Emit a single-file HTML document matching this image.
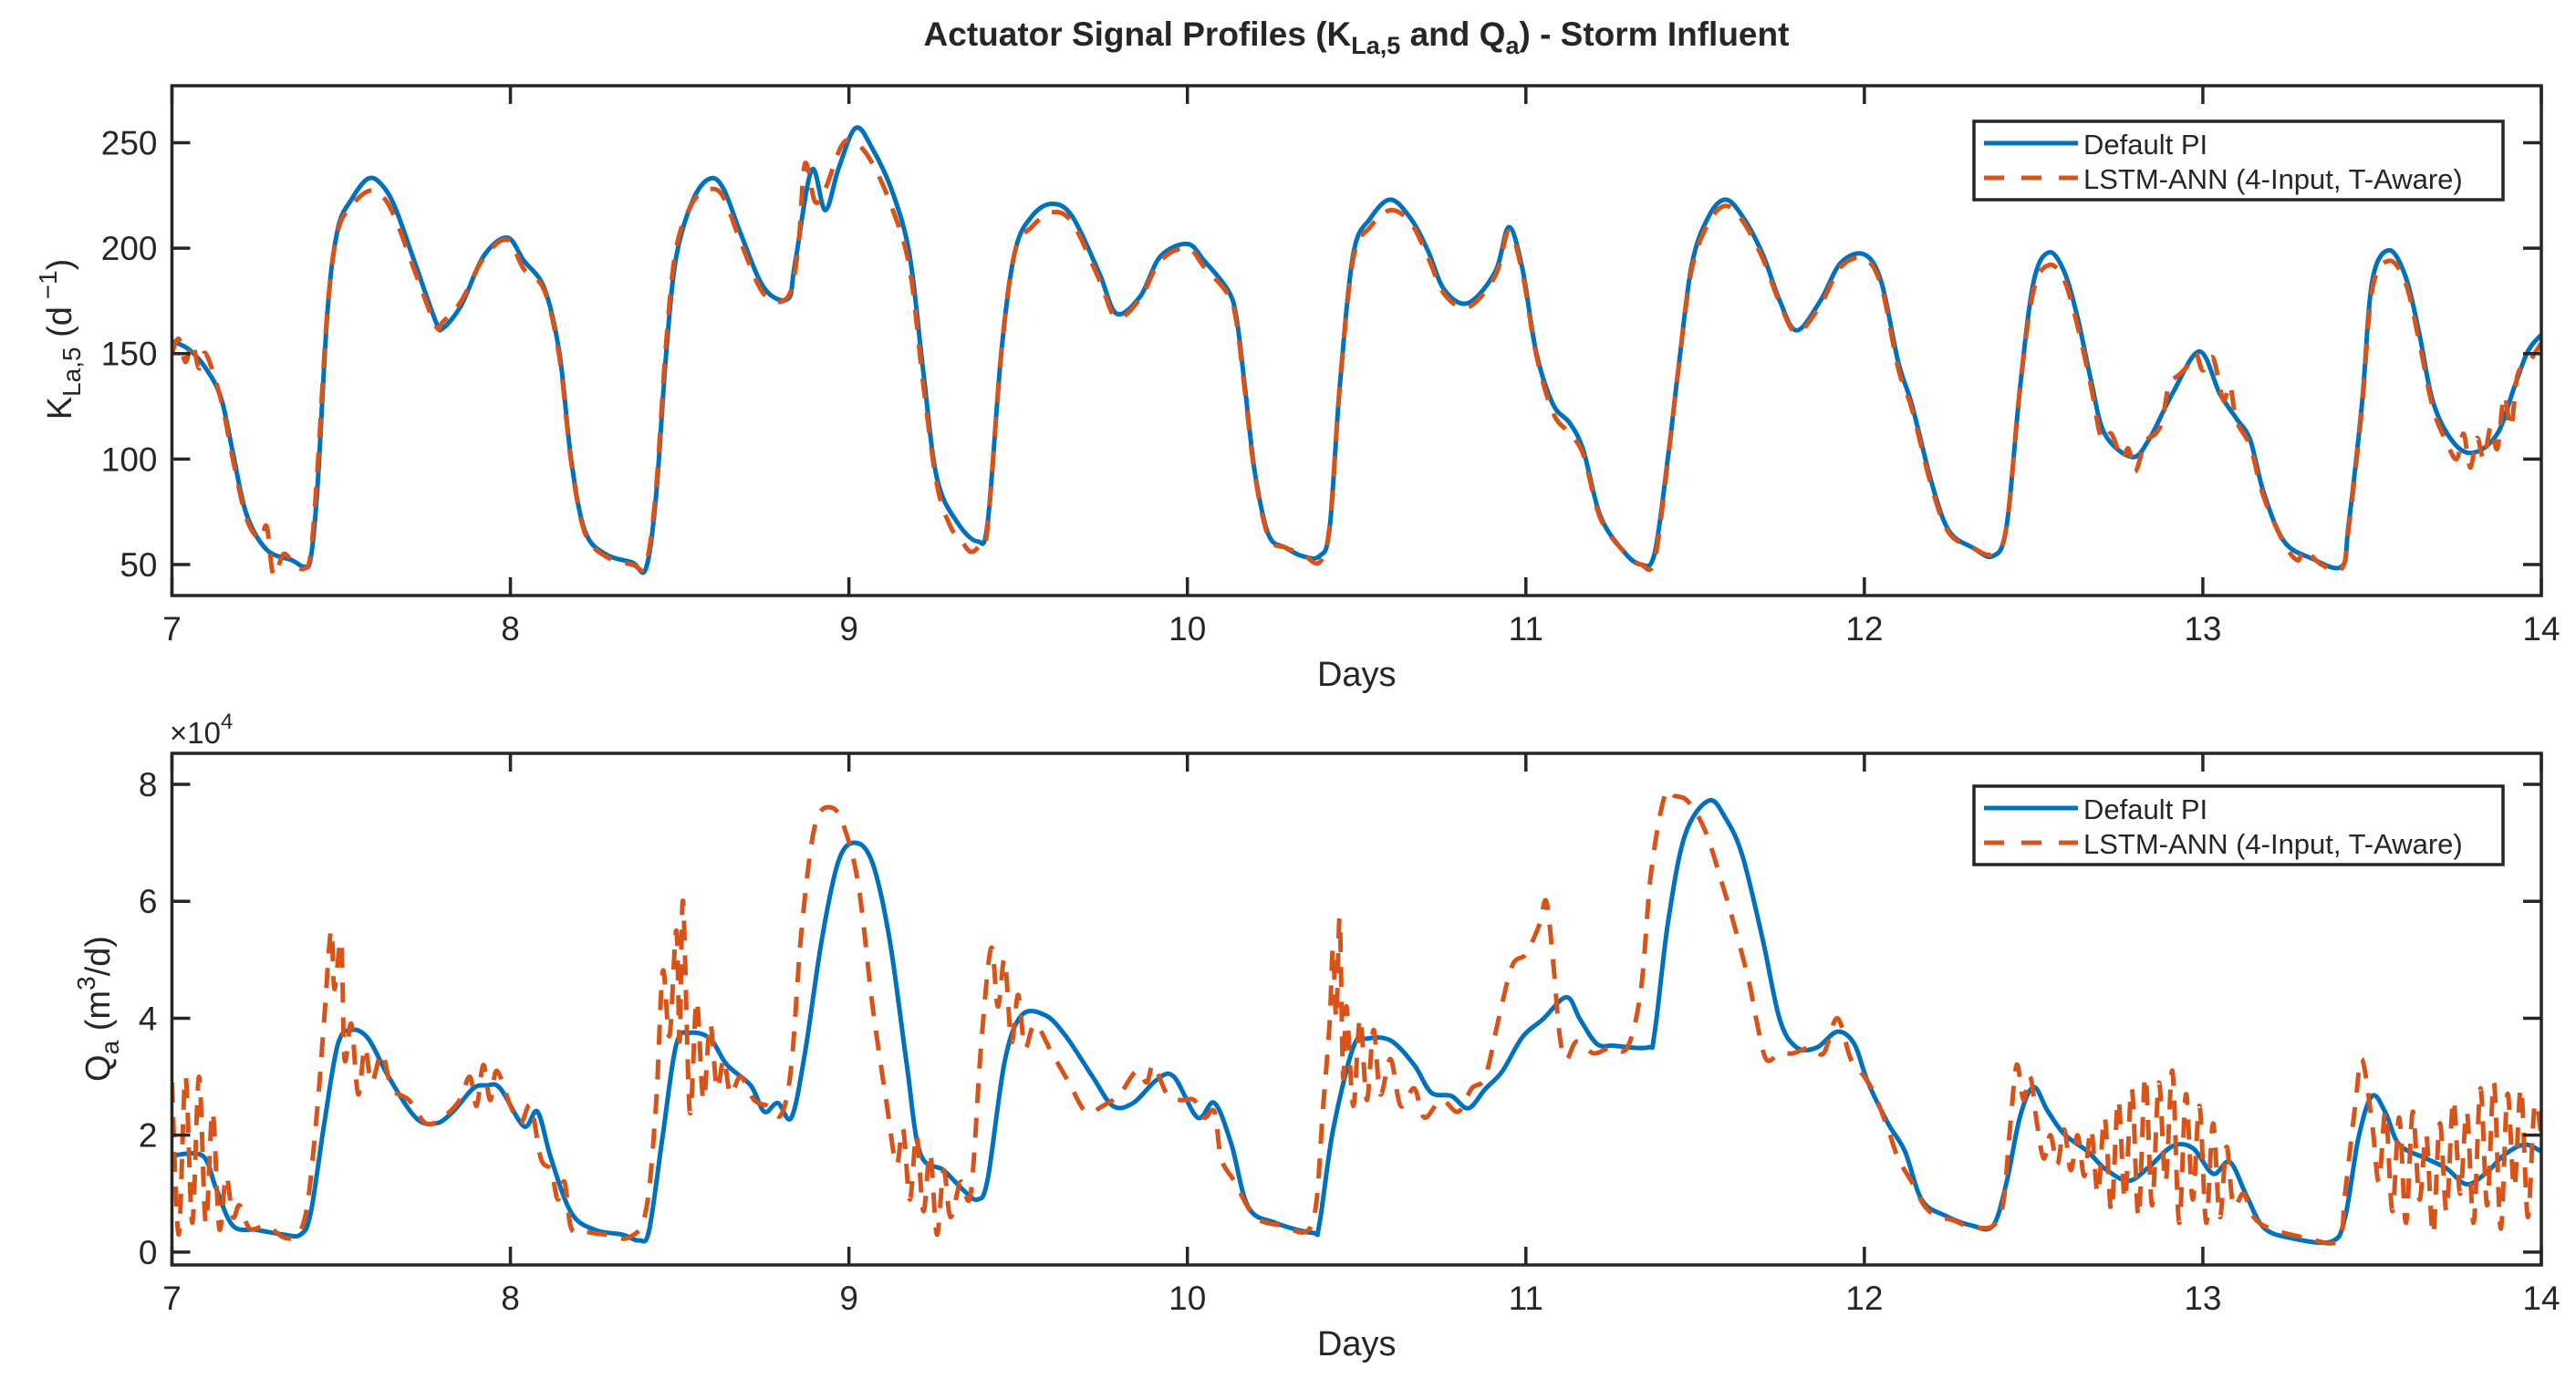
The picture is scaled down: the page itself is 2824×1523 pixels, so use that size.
<!DOCTYPE html>
<html><head><meta charset="utf-8"><style>
html,body{margin:0;padding:0;background:#fff;}
svg{display:block;font-family:"Liberation Sans",Arial,sans-serif;}
</style></head><body>
<svg id="chart" width="2824" height="1523" viewBox="0 0 2824 1523" xmlns="http://www.w3.org/2000/svg">
<rect width="2824" height="1523" fill="#fff"/>
<text x="1487" y="50" text-anchor="middle" font-size="37" font-weight="bold" fill="#262626">Actuator Signal Profiles (K<tspan font-size="27" dy="9">La,5</tspan><tspan dy="-9"> and Q</tspan><tspan font-size="27" dy="9">a</tspan><tspan dy="-9">) - Storm Influent</tspan></text>
<g id="top"></g>
<g id="bot"></g>
</svg>
<script>
// ---- data: top panel (KLa5) ----
const piTopDays = [7.0,7.05,7.1,7.145,7.18,7.22,7.28,7.355,7.39,7.41,7.43,7.46,7.49,7.53,7.58,7.62,7.66,7.72,7.78,7.8,7.855,7.92,7.99,8.04,8.1,8.145,8.18,8.22,8.28,8.36,8.4,8.43,8.46,8.49,8.54,8.59,8.63,8.68,8.75,8.82,8.84,8.89,8.93,8.97,9.02,9.07,9.13,9.18,9.22,9.26,9.32,9.38,9.41,9.45,9.49,9.54,9.6,9.66,9.74,9.79,9.86,9.92,10.0,10.05,10.12,10.145,10.17,10.2,10.24,10.29,10.34,10.39,10.42,10.45,10.49,10.54,10.6,10.66,10.71,10.76,10.83,10.91,10.95,10.99,11.03,11.08,11.13,11.17,11.22,11.29,11.34,11.38,11.42,11.45,11.49,11.54,11.59,11.64,11.7,11.75,11.8,11.87,11.93,12.0,12.05,12.1,12.14,12.2,12.25,12.32,12.38,12.42,12.46,12.5,12.545,12.59,12.63,12.67,12.71,12.79,12.84,12.91,12.99,13.05,13.1,13.14,13.18,13.24,13.32,13.41,13.43,13.47,13.5,13.55,13.6,13.64,13.68,13.74,13.8,13.87,13.92,13.96,14.0];
const piTopVals = [156,152,143,129,103,74,57,52,49,53,87,171,209,223,233,230,219,192,165,162,173,196,205,194,181,150,99,66,55,51,48,82,150,196,223,233,228,207,181,176,192,237,218,238,257,247,226,196,141,91,70,61,70,150,198,215,221,215,188,169,177,196,202,194,180,167,134,93,64,58,54,54,67,134,197,214,223,214,199,180,174,189,210,190,151,126,117,104,73,56,50,55,101,142,192,215,223,215,197,175,161,175,193,197,184,146,126,88,66,58,54,68,134,184,198,189,167,137,112,101,109,131,151,131,119,109,84,61,53,49,68,126,184,199,186,159,127,108,103,112,134,151,159];
const lstmTopDays = [
7.0,7.02,7.04,7.06,7.08,7.1,7.145,7.18,7.22,7.26,
7.28,7.3,7.33,7.36,7.39,7.41,7.43,7.46,7.49,7.53,
7.58,7.62,7.66,7.72,7.78,7.8,7.855,7.92,7.99,8.04,
8.1,8.145,8.18,8.22,8.28,8.36,8.4,8.43,8.46,8.49,
8.54,8.59,8.63,8.68,8.75,8.82,8.85,8.87,8.9,8.93,
8.98,9.02,9.07,9.13,9.18,9.22,9.26,9.3,9.33,9.36,
9.39,9.41,9.45,9.49,9.54,9.6,9.66,9.74,9.79,9.86,
9.92,10.0,10.05,10.12,10.145,10.17,10.2,10.24,10.29,10.34,
10.39,10.42,10.45,10.49,10.54,10.6,10.66,10.71,10.76,10.83,
10.91,10.95,10.99,11.03,11.08,11.13,11.17,11.22,11.29,11.34,
11.38,11.42,11.45,11.49,11.54,11.59,11.64,11.7,11.75,11.8,
11.87,11.93,12.0,12.05,12.1,12.14,12.2,12.25,12.32,12.38,
12.42,12.46,12.5,12.545,12.59,12.63,12.67,12.7,12.73,12.76,
12.78,12.8,12.83,12.86,12.88,12.9,12.93,12.96,12.98,13.0,
13.03,13.06,13.08,13.1,13.14,13.18,13.24,13.28,13.3,13.35,
13.41,13.43,13.47,13.5,13.55,13.6,13.64,13.68,13.72,13.75,
13.77,13.79,13.81,13.83,13.85,13.87,13.89,13.91,13.93,13.96,
13.98,14.0];
const lstmTopVals = [
150,157,146,155,143,150,128,100,72,62,
68,45,55,50,48,55,95,172,208,220,
227,225,214,188,163,165,175,195,204,190,
180,148,98,65,54,50,50,85,155,200,
222,228,224,203,178,177,200,240,222,228,
249,250,240,218,190,135,88,68,62,56,
60,68,150,198,210,217,212,185,167,176,
194,200,191,178,165,132,92,63,58,55,
51,68,134,195,210,218,212,196,178,172,
187,208,188,150,122,112,102,72,56,50,
52,100,142,190,212,220,213,195,174,160,
173,191,195,182,143,124,86,65,58,55,
68,134,180,192,185,163,134,110,112,100,
105,94,108,112,118,135,140,145,150,142,
148,128,135,118,106,82,60,52,57,50,
48,66,124,180,194,183,155,124,108,100,
112,96,110,100,115,105,130,115,140,145,
150,155];
const topYTicks = [50,100,150,200,250];
// ---- data: bottom panel (Qa, x1e4) ----
const piBotDays = [7.0,7.09,7.13,7.18,7.25,7.33,7.38,7.41,7.45,7.49,7.53,7.58,7.64,7.72,7.78,7.83,7.89,7.93,7.97,8.04,8.08,8.12,8.18,8.25,8.33,8.38,8.41,8.45,8.49,8.53,8.59,8.64,8.71,8.75,8.79,8.83,8.87,8.92,8.97,9.02,9.07,9.12,9.17,9.21,9.28,9.34,9.38,9.41,9.46,9.51,9.58,9.64,9.72,9.78,9.84,9.91,9.96,10.03,10.08,10.13,10.18,10.26,10.37,10.39,10.43,10.49,10.53,10.6,10.67,10.72,10.78,10.83,10.88,10.93,10.99,11.05,11.12,11.16,11.21,11.26,11.36,11.38,11.42,11.47,11.54,11.59,11.64,11.7,11.75,11.8,11.86,11.92,11.97,12.01,12.07,12.12,12.17,12.24,12.32,12.38,12.42,12.46,12.5,12.54,12.59,12.66,12.71,12.78,12.84,12.91,12.97,13.03,13.08,13.13,13.18,13.26,13.38,13.42,13.46,13.5,13.54,13.58,13.66,13.72,13.78,13.84,13.89,13.95,14.0];
const piBotVals = [1.65,1.65,1.1,0.45,0.38,0.3,0.3,0.67,2.2,3.55,3.8,3.65,3.0,2.3,2.2,2.4,2.8,2.85,2.8,2.15,2.4,1.6,0.67,0.38,0.3,0.2,0.38,2.0,3.55,3.75,3.65,3.2,2.85,2.4,2.55,2.3,3.4,5.35,6.7,7.0,6.65,5.35,3.25,1.7,1.4,1.05,0.9,1.25,3.25,4.05,4.05,3.7,3.0,2.5,2.55,2.95,3.0,2.3,2.55,1.84,0.77,0.5,0.33,0.48,2.08,3.5,3.65,3.62,3.2,2.73,2.67,2.46,2.79,3.09,3.68,3.98,4.36,3.98,3.56,3.53,3.5,3.74,5.64,7.13,7.72,7.42,6.77,5.34,3.98,3.5,3.5,3.77,3.56,2.91,2.2,1.72,0.89,0.62,0.45,0.45,1.19,2.32,2.82,2.43,2.02,1.72,1.43,1.22,1.45,1.81,1.78,1.34,1.54,0.95,0.42,0.24,0.18,0.59,1.96,2.67,2.38,1.84,1.6,1.43,1.16,1.37,1.66,1.84,1.72];
const lstmBotDays = [
7.0,7.02,7.04,7.06,7.08,7.1,7.12,7.14,7.16,7.18,
7.2,7.23,7.28,7.33,7.37,7.4,7.43,7.45,7.47,7.48,
7.5,7.51,7.53,7.55,7.57,7.59,7.62,7.65,7.7,7.75,
7.8,7.85,7.88,7.9,7.92,7.94,7.96,8.0,8.03,8.06,
8.09,8.12,8.14,8.16,8.18,8.22,8.28,8.35,8.4,8.43,
8.45,8.47,8.49,8.5,8.51,8.53,8.55,8.57,8.59,8.61,
8.63,8.65,8.68,8.72,8.76,8.8,8.83,8.86,8.9,8.95,
8.99,9.03,9.07,9.11,9.14,9.16,9.18,9.2,9.22,9.24,
9.26,9.28,9.3,9.33,9.36,9.39,9.42,9.44,9.46,9.48,
9.5,9.52,9.55,9.6,9.65,9.7,9.75,9.8,9.85,9.88,
9.9,9.94,9.98,10.02,10.05,10.08,10.1,10.14,10.2,10.28,
10.35,10.38,10.4,10.42,10.43,10.44,10.45,10.46,10.47,10.49,
10.51,10.53,10.55,10.57,10.6,10.63,10.67,10.7,10.75,10.8,
10.84,10.88,10.92,10.96,11.0,11.04,11.06,11.08,11.1,11.12,
11.15,11.2,11.25,11.3,11.34,11.37,11.41,11.44,11.48,11.53,
11.58,11.62,11.66,11.68,11.71,11.75,11.79,11.84,11.88,11.92,
11.96,12.0,12.03,12.07,12.1,12.14,12.18,12.22,12.26,12.3,
12.33,12.38,12.41,12.43,12.45,12.47,12.49,12.51,12.53,12.55,
12.57,12.59,12.61,12.63,12.65,12.67,12.69,12.71,12.73,12.75,
12.77,12.79,12.81,12.83,12.85,12.87,12.89,12.91,12.93,12.95,
12.97,12.99,13.01,13.03,13.05,13.07,13.09,13.12,13.15,13.2,
13.3,13.4,13.42,13.45,13.47,13.5,13.52,13.54,13.56,13.58,
13.6,13.62,13.64,13.66,13.68,13.7,13.72,13.74,13.76,13.78,
13.8,13.82,13.84,13.86,13.88,13.9,13.92,13.94,13.96,13.98,
14.0];
const lstmBotVals = [
2.9,0.3,3.0,0.5,3.0,0.5,2.4,0.4,1.3,0.6,
0.8,0.4,0.45,0.25,0.3,0.8,2.5,4.0,5.5,4.5,
5.3,3.3,3.9,2.7,3.5,2.9,3.4,2.8,2.6,2.2,
2.3,2.6,3.0,2.5,3.2,2.6,3.1,2.5,2.2,2.5,
1.6,1.4,0.9,1.2,0.4,0.35,0.3,0.25,0.7,2.5,
4.8,3.7,5.5,3.6,6.0,2.4,4.3,2.6,3.9,2.8,
3.3,2.7,3.0,2.6,2.5,2.35,3.2,5.5,7.3,7.6,
7.2,6.2,4.2,2.6,1.5,2.1,0.9,2.0,0.7,1.7,
0.3,1.4,0.6,1.2,1.0,3.5,5.2,4.2,5.0,3.6,
4.4,3.5,3.9,3.4,2.9,2.4,2.5,2.7,3.1,2.9,
3.2,2.7,2.6,2.6,2.3,2.4,1.6,1.2,0.6,0.45,
0.35,0.8,2.4,3.9,5.2,4.0,5.7,3.0,4.2,2.5,
4.0,2.6,3.8,2.7,3.3,2.5,2.8,2.3,2.6,2.4,
2.8,3.0,4.0,4.9,5.1,5.6,6.0,5.0,3.7,3.3,
3.6,3.4,3.5,3.5,4.5,6.5,7.8,7.8,7.7,7.2,
6.3,5.5,4.6,4.0,3.3,3.4,3.4,3.5,3.4,4.0,
3.3,3.0,2.7,2.1,1.6,1.2,0.77,0.6,0.55,0.45,
0.42,0.45,0.83,2.1,3.2,2.6,3.0,2.2,1.6,2.0,
1.5,2.1,1.4,2.0,1.3,2.1,1.0,2.3,0.7,2.6,
0.9,2.8,0.6,3.0,0.8,2.9,1.2,3.1,0.5,2.7,
0.9,2.5,0.5,2.2,0.6,1.8,0.8,1.0,0.6,0.4,
0.25,0.2,1.0,2.5,3.3,2.2,1.2,2.4,0.7,2.3,
0.5,2.4,0.9,2.0,0.3,2.2,0.7,2.6,1.0,2.4,
0.5,2.8,0.8,2.9,0.4,2.7,1.1,2.8,0.6,2.5,
2.0];
const botYTicks = [0,2,4,6,8];
const xTicks = [7,8,9,10,11,12,13,14];

const NS = "http://www.w3.org/2000/svg";
const L = 188.5, R = 2786;
function mk(tag, attrs, parent){ const e=document.createElementNS(NS,tag); for(const k in attrs) e.setAttribute(k,attrs[k]); parent.appendChild(e); return e; }
function xs(d){ return L + (d-7)/7*(R-L); }
function smoothPath(days, vals, ys){
  const n = Math.min(days.length, vals.length);
  const p = [];
  for(let i=0;i<n;i++) p.push([xs(days[i]), ys(vals[i])]);
  let s = "M"+p[0][0].toFixed(1)+","+p[0][1].toFixed(1);
  for(let i=0;i<p.length-1;i++){
    const p0=p[Math.max(0,i-1)], p1=p[i], p2=p[i+1], p3=p[Math.min(p.length-1,i+2)];
    const t=6;
    const c1=[p1[0]+(p2[0]-p0[0])/t, p1[1]+(p2[1]-p0[1])/t];
    const c2=[p2[0]-(p3[0]-p1[0])/t, p2[1]-(p3[1]-p1[1])/t];
    s+="C"+c1[0].toFixed(1)+","+c1[1].toFixed(1)+" "+c2[0].toFixed(1)+","+c2[1].toFixed(1)+" "+p2[0].toFixed(1)+","+p2[1].toFixed(1);
  }
  return s;
}
function panel(g, T, B, ymin, ymax, yticks, pd, pv, ld, lv, legTop, pfx){
  const ys = v => B - (v-ymin)/(ymax-ymin)*(B-T);
  const clipId = pfx+"clip";
  const defs = mk("defs",{},g);
  const cp = mk("clipPath",{id:clipId},defs);
  mk("rect",{x:L,y:T,width:R-L,height:B-T},cp);
  const lines = mk("g",{"clip-path":"url(#"+clipId+")"},g);
  const pl = mk("path",{d:smoothPath(pd,pv,ys),fill:"none",stroke:"#0072BD","stroke-width":5,"stroke-linejoin":"round"},lines);
  
  
  const ll = mk("path",{d:smoothPath(ld,lv,ys),fill:"none",stroke:"#D95319","stroke-width":5,"stroke-dasharray":"22 16"},lines);
  
  
  const box = mk("rect",{x:L,y:T,width:R-L,height:B-T,fill:"none",stroke:"#262626","stroke-width":3.5},g);
  
  
  yticks.forEach(v=>{
    const y=ys(v);
    mk("line",{x1:L,x2:L+20,y1:y,y2:y,stroke:"#262626","stroke-width":3.5},g);
    mk("line",{x1:R,x2:R-20,y1:y,y2:y,stroke:"#262626","stroke-width":3.5},g);
    const t=mk("text",{x:L-16,y:y+13,"text-anchor":"end","font-size":37,fill:"#262626"},g);
    t.textContent=v;
    
    
  });
  xTicks.forEach(d=>{
    const x=xs(d);
    mk("line",{x1:x,x2:x,y1:B,y2:B-20,stroke:"#262626","stroke-width":3.5},g);
    mk("line",{x1:x,x2:x,y1:T,y2:T+20,stroke:"#262626","stroke-width":3.5},g);
    const t=mk("text",{x:x,y:B+49,"text-anchor":"middle","font-size":37,fill:"#262626"},g);
    t.textContent=d;
    
    
  });
  const xl=mk("text",{x:(L+R)/2,y:B+99,"text-anchor":"middle","font-size":38,fill:"#262626"},g);
  xl.textContent="Days";
  
  
  const lg = mk("g",{},g);
  
  
  mk("rect",{x:2164,y:legTop,width:580,height:86,fill:"#fff",stroke:"#262626","stroke-width":3.5},lg);
  mk("line",{x1:2175,x2:2278,y1:legTop+24,y2:legTop+24,stroke:"#0072BD","stroke-width":5},lg);
  mk("line",{x1:2175,x2:2278,y1:legTop+62,y2:legTop+62,stroke:"#D95319","stroke-width":5,"stroke-dasharray":"22 19"},lg);
  const t1=mk("text",{x:2284,y:legTop+36,"font-size":31,fill:"#262626"},lg); t1.textContent="Default PI";
  
  
  const t2=mk("text",{x:2284,y:legTop+74,"font-size":31,fill:"#262626"},lg); t2.textContent="LSTM-ANN (4-Input, T-Aware)";
  
  
}
panel(document.getElementById("top"), 94, 653, 35.3, 277, topYTicks, piTopDays, piTopVals, lstmTopDays, lstmTopVals, 133, "top");
panel(document.getElementById("bot"), 826, 1387, -0.22, 8.53, botYTicks, piBotDays, piBotVals, lstmBotDays, lstmBotVals, 862, "bottom");
</script>
<script>
(function(){
  const svg=document.getElementById("chart");
  const NS="http://www.w3.org/2000/svg";
  const k=document.createElementNS(NS,"text");
  k.setAttribute("transform","translate(78,372) rotate(-90)");
  k.setAttribute("text-anchor","middle");
  k.setAttribute("font-size","38");
  k.setAttribute("fill","#262626");
  k.innerHTML='K<tspan font-size="28" dy="10">La,5</tspan><tspan dy="-10"> (d</tspan><tspan font-size="28" dy="-16"> −1</tspan><tspan dy="16">)</tspan>';
  
  
  svg.appendChild(k);
  const q=document.createElementNS(NS,"text");
  q.setAttribute("transform","translate(120,1106) rotate(-90)");
  q.setAttribute("text-anchor","middle");
  q.setAttribute("font-size","38");
  q.setAttribute("fill","#262626");
  q.innerHTML='Q<tspan font-size="28" dy="10">a</tspan><tspan dy="-10">  (m</tspan><tspan font-size="28" dy="-16">3</tspan><tspan dy="16">/d)</tspan>';
  
  
  svg.appendChild(q);
  const e=document.createElementNS(NS,"text");
  e.setAttribute("x","186"); e.setAttribute("y","815");
  e.setAttribute("font-size","33"); e.setAttribute("fill","#262626");
  e.innerHTML='×10<tspan font-size="24" dy="-16">4</tspan>';
  
  
  svg.appendChild(e);
})();
</script>
</body></html>
